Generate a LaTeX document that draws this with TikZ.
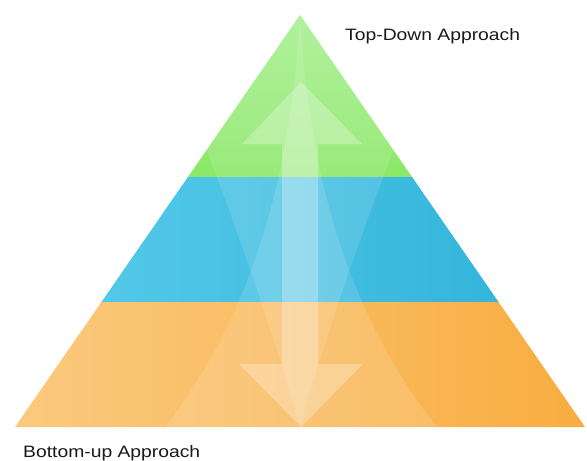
\documentclass[tikz,border=0pt]{standalone}
\usepackage{fontspec}
\setmainfont{Liberation Sans}
\usepackage{graphicx}
\definecolor{greenTop}{HTML}{A9EF92}
\definecolor{greenBot}{HTML}{8AE866}
\definecolor{blueL}{HTML}{5BCDEB}
\definecolor{blueR}{HTML}{2DB1D9}
\definecolor{orangeL}{HTML}{FBCA80}
\definecolor{orangeR}{HTML}{F8AD40}
\begin{document}
\begin{tikzpicture}[x=1pt,y=-1pt,
    labeltext/.style={font=\fontsize{16.5}{19}\selectfont, text=black!90, inner sep=0pt},
    glass/.style={fill=white, fill opacity=0.13}]
    \useasboundingbox (0,0) rectangle (587,461);
    % corners of the pyramid
    \coordinate (apex) at (300,15);
    \coordinate (baseL) at (15,427);
    \coordinate (baseR) at (585,427);
    \begin{scope}
        \clip (apex) -- (baseR) -- (baseL) -- cycle;
        % the three bands
        \shade[top color=greenTop, bottom color=greenBot] (0,0) rectangle (587,177);
        \shade[left color=blueL, right color=blueR] (0,177) rectangle (587,302);
        \shade[left color=orangeL, right color=orangeR] (0,302) rectangle (587,430);
        % lighter overlays
        \fill[glass] (apex) .. controls (290,200) and (240,330) .. (165,427)
            -- (437,427) .. controls (360,330) and (310,200) .. (apex) -- cycle;
        \fill[glass] (300,427) .. controls (270,320) and (215,160) .. (150,15)
            -- (450,15) .. controls (385,160) and (330,320) .. (300,427) -- cycle;
    \end{scope}
    % double arrow
    \fill[white, fill opacity=0.28] (301,82) -- (362,144) -- (318,144) -- (318,364)
        -- (363,364) -- (301,427) -- (239,364) -- (282,364) -- (282,144) -- (242,144) -- cycle;
    \node[labeltext, anchor=base west] (topdown) at (345,40) {\scalebox{1.17}[1]{Top-Down Approach}};
    \node[labeltext, anchor=base west] (bottomup) at (23,457) {\scalebox{1.17}[1]{Bottom-up Approach}};
\end{tikzpicture}
\end{document}
